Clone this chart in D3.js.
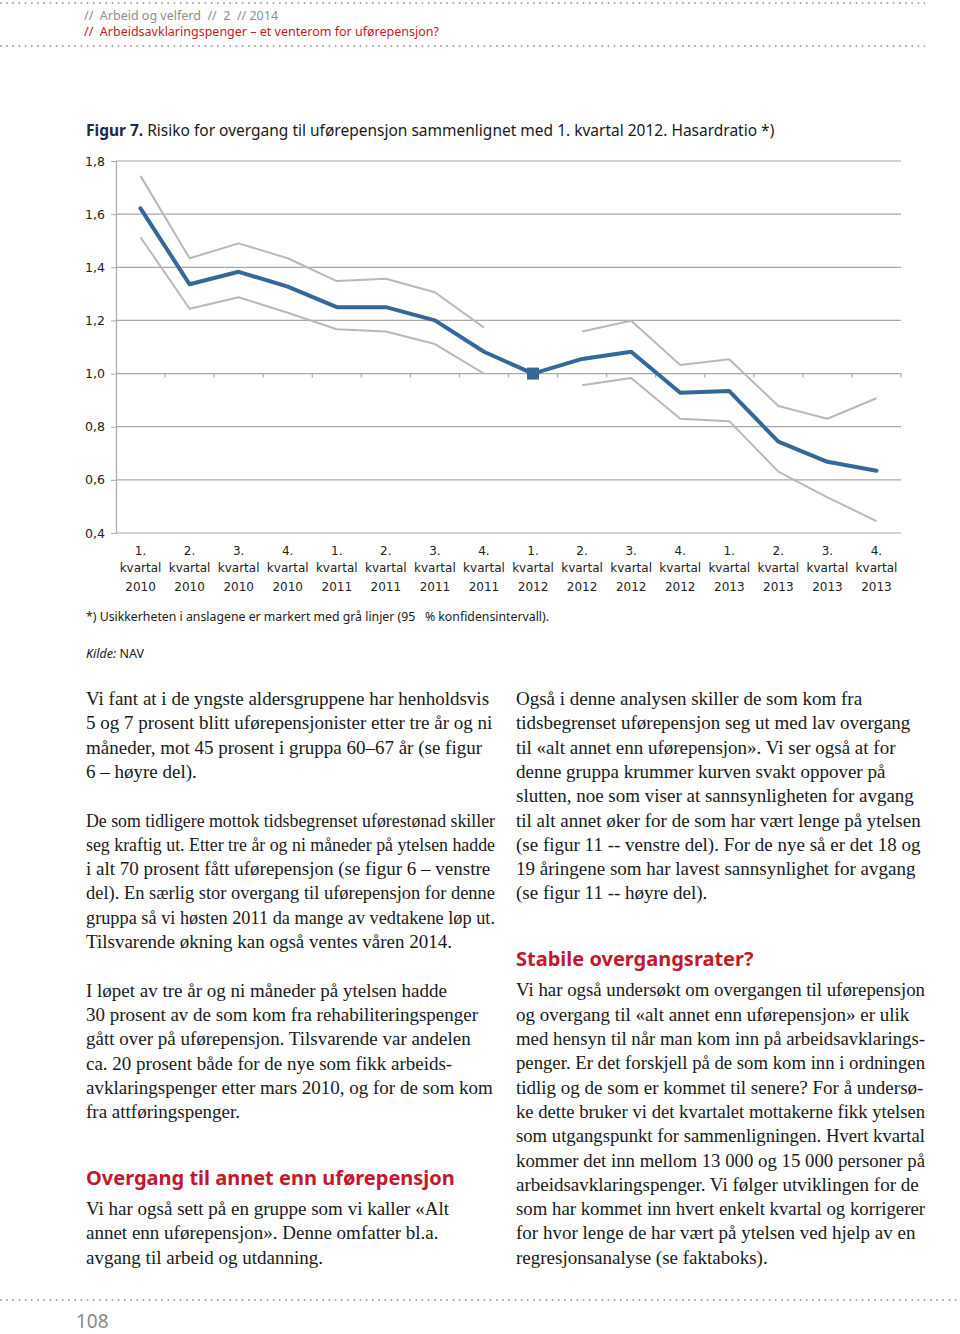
<!DOCTYPE html>
<html><head><meta charset="utf-8">
<script src="https://cdn.jsdelivr.net/npm/d3@7"></script>
<style>
html,body{margin:0;padding:0;background:#fff;}
svg{display:block;}
</style></head>
<body>
<svg id="page" width="960" height="1334"></svg>
<script>
// ---------- DATA ----------
const quarters = ["1.","2.","3.","4.","1.","2.","3.","4.","1.","2.","3.","4.","1.","2.","3.","4."];
const years = ["2010","2010","2010","2010","2011","2011","2011","2011","2012","2012","2012","2012","2013","2013","2013","2013"];
const hazard = [1.622,1.336,1.383,1.327,1.250,1.250,1.200,1.082,1.000,1.055,1.082,0.928,0.934,0.744,0.668,0.634];
const upperCI = [1.744,1.434,1.490,1.434,1.348,1.357,1.306,1.173,null,1.158,1.199,1.032,1.054,0.878,0.830,0.907];
const lowerCI = [1.513,1.244,1.287,1.229,1.167,1.158,1.111,1.000,null,0.956,0.983,0.830,0.821,0.631,0.534,0.445];
const yTicks = [0.4,0.6,0.8,1.0,1.2,1.4,1.6,1.8];
const referenceIndex = 8;

const leftCol = [
  {type:"p", lines:["Vi fant at i de yngste aldersgruppene har henholdsvis","5 og 7 prosent blitt uførepensjonister etter tre år og ni","måneder, mot 45 prosent i gruppa 60–67 år (se figur","6 – høyre del)."]},
  {type:"gap"},
  {type:"p", lines:["De som tidligere mottok tidsbegrenset uførestønad skiller","seg kraftig ut. Etter tre år og ni måneder på ytelsen hadde","i alt 70 prosent fått uførepensjon (se figur 6 – venstre","del). En særlig stor overgang til uførepensjon for denne","gruppa så vi høsten 2011 da mange av vedtakene løp ut.","Tilsvarende økning kan også ventes våren 2014."]},
  {type:"gap"},
  {type:"p", lines:["I løpet av tre år og ni måneder på ytelsen hadde","30 prosent av de som kom fra rehabiliteringspenger","gått over på uførepensjon. Tilsvarende var andelen","ca. 20 prosent både for de nye som fikk arbeids-","avklaringspenger etter mars 2010, og for de som kom","fra attføringspenger."]},
  {type:"h", text:"Overgang til annet enn uførepensjon"},
  {type:"p", lines:["Vi har også sett på en gruppe som vi kaller «Alt","annet enn uførepensjon». Denne omfatter bl.a.","avgang til arbeid og utdanning."]}
];
const rightCol = [
  {type:"p", lines:["Også i denne analysen skiller de som kom fra","tidsbegrenset uførepensjon seg ut med lav overgang","til «alt annet enn uførepensjon». Vi ser også at for","denne gruppa krummer kurven svakt oppover på","slutten, noe som viser at sannsynligheten for avgang","til alt annet øker for de som har vært lenge på ytelsen","(se figur 11 -- venstre del). For de nye så er det 18 og","19 åringene som har lavest sannsynlighet for avgang","(se figur 11 -- høyre del)."]},
  {type:"h", text:"Stabile overgangsrater?"},
  {type:"p", lines:["Vi har også undersøkt om overgangen til uførepensjon","og overgang til «alt annet enn uførepensjon» er ulik","med hensyn til når man kom inn på arbeidsavklarings-","penger. Er det forskjell på de som kom inn i ordningen","tidlig og de som er kommet til senere? For å undersø-","ke dette bruker vi det kvartalet mottakerne fikk ytelsen","som utgangspunkt for sammenligningen. Hvert kvartal","kommer det inn mellom 13 000 og 15 000 personer på","arbeidsavklaringspenger. Vi følger utviklingen for de","som har kommet inn hvert enkelt kvartal og korrigerer","for hvor lenge de har vært på ytelsen ved hjelp av en","regresjonsanalyse (se faktaboks)."]}
];

// ---------- PAGE ----------
const svg = d3.select("#page");
const SANS = "'Noto Sans', 'Open Sans', sans-serif";
const CHARTF = "'DejaVu Sans', Verdana, sans-serif";
const SERIF = "'Liberation Serif', 'Times New Roman', serif";
const RED = "#c4172c";

function dotted(y, x0, x1){
  svg.append("line").attr("x1",x0).attr("x2",x1).attr("y1",y).attr("y2",y)
    .attr("stroke","#8c8c8c").attr("stroke-width",1.6)
    .attr("stroke-dasharray","1.6,4.6");
}
dotted(3, 0, 925);
dotted(46, 0, 925);
dotted(1300, 0, 960);

svg.append("text").attr("x",84).attr("y",20).attr("font-family",SANS).attr("font-size",12.5)
  .style("white-space","pre").attr("fill","#8e8e8e").text("//  Arbeid og velferd  //  2  // 2014");
svg.append("text").attr("x",84).attr("y",36).attr("font-family",SANS).attr("font-size",12.5)
  .style("white-space","pre").attr("fill",RED).text("//  Arbeidsavklaringspenger – et venterom for uførepensjon?");

// title
const title = svg.append("text").attr("x",86).attr("y",136).attr("font-family",SANS).attr("font-size",15.5).attr("fill","#1a1a1a");
title.append("tspan").attr("font-weight","bold").attr("fill","#1c2a4a").text("Figur 7.");
title.append("tspan").text(" Risiko for overgang til uførepensjon sammenlignet med 1. kvartal 2012. Hasardratio *)");

// ---------- CHART ----------
const x0 = 116, x1 = 901, yTop = 161, yBot = 533;
const x = d3.scaleBand().domain(d3.range(quarters.length)).range([x0,x1]).paddingInner(0).paddingOuter(0);
const cx = i => x(i) + x.bandwidth()/2;
const y = d3.scaleLinear().domain([0.4,1.8]).range([yBot,yTop]);

const g = svg.append("g");
g.selectAll("line.grid").data(yTicks).join("line").attr("class","grid")
  .attr("x1",x0).attr("x2",x1).attr("y1",d=>y(d)).attr("y2",d=>y(d))
  .attr("stroke","#a9a9a9").attr("stroke-width",1.2);
const yAxis = d3.axisLeft(y).tickValues(yTicks).tickSize(5).tickPadding(6)
  .tickFormat(d => d3.format(".1f")(d).replace(".",","));
const ya = g.append("g").attr("transform",`translate(${x0},0)`).call(yAxis);
ya.select(".domain").attr("stroke","#a9a9a9").attr("stroke-width",1.2);
ya.selectAll(".tick line").attr("stroke","#a9a9a9");
ya.selectAll("text").attr("font-family",CHARTF).attr("font-size",12.5).attr("fill","#222");

const bounds = d3.range(1, quarters.length+1).map(i => i < quarters.length ? x(i) : x1);
g.selectAll("line.xt").data(bounds).join("line").attr("class","xt")
  .attr("x1",d=>d).attr("x2",d=>d).attr("y1",y(1.0)).attr("y2",y(1.0)+4)
  .attr("stroke","#a9a9a9").attr("stroke-width",1.2);

const xl = g.selectAll("text.xl").data(quarters).join("text").attr("class","xl")
  .attr("text-anchor","middle").attr("font-family",CHARTF).attr("font-size",12).attr("fill","#222");
xl.append("tspan").attr("x",(d,i)=>cx(i)).attr("y",555).text(d=>d);
xl.append("tspan").attr("x",(d,i)=>cx(i)).attr("y",572).text("kvartal");
xl.append("tspan").attr("x",(d,i)=>cx(i)).attr("y",591).text((d,i)=>years[i]);

const ciLine = d3.line().defined(d=>d!=null).x((d,i)=>cx(i)).y(d=>y(d));
[upperCI, lowerCI].forEach(arr => {
  g.append("path").attr("d",ciLine(arr)).attr("fill","none")
    .attr("stroke","#b9b9b9").attr("stroke-width",2).attr("stroke-linejoin","round");
});
const mainLine = d3.line().x((d,i)=>cx(i)).y(d=>y(d));
g.append("path").attr("d",mainLine(hazard)).attr("fill","none")
  .attr("stroke","#356798").attr("stroke-width",4).attr("stroke-linejoin","round").attr("stroke-linecap","round");
g.append("rect").attr("x",cx(referenceIndex)-6).attr("y",y(hazard[referenceIndex])-6)
  .attr("width",12).attr("height",12).attr("fill","#356798");

// footnote & source
svg.append("text").attr("x",86).attr("y",621).attr("font-family",SANS).attr("font-size",12.3).attr("fill","#1a1a1a")
  .style("white-space","pre").text("*) Usikkerheten i anslagene er markert med grå linjer (95   % konfidensintervall).");
const src = svg.append("text").attr("x",86).attr("y",658).attr("font-family",SANS).attr("font-size",12.5).attr("fill","#1a1a1a");
src.append("tspan").attr("font-style","italic").text("Kilde:");
src.append("tspan").text(" NAV");

// ---------- BODY TEXT ----------
const LH = 24.3, MAXW = 409;
function column(blocks, xPos, y0){
  let yy = y0;          // baseline of next line
  let last = null;      // baseline of last written line
  blocks.forEach(b => {
    if (b.type === "gap") { yy += LH; return; }
    if (b.type === "h") {
      const hy = last + 66.5;
      svg.append("text").attr("x",xPos).attr("y",hy).attr("font-family",SANS).attr("font-weight","bold")
        .attr("font-size",20).attr("fill",RED).text(b.text);
      yy = hy + 30.5;
      return;
    }
    b.lines.forEach(l => {
      const t = svg.append("text").attr("x",xPos).attr("y",yy).attr("font-family",SERIF)
        .attr("font-size",19).attr("fill","#1a1a1a").text(l);
      const w = t.node().getComputedTextLength();
      if (w > MAXW) t.attr("textLength",MAXW).attr("lengthAdjust","spacingAndGlyphs");
      last = yy;
      yy += LH;
    });
  });
}
column(leftCol, 86, 705);
column(rightCol, 516, 705);

// page number
svg.append("text").attr("x",76).attr("y",1328).attr("font-family",SANS).attr("font-size",19)
  .attr("fill","#8a8a8a").text("108");
</script>
</body></html>
